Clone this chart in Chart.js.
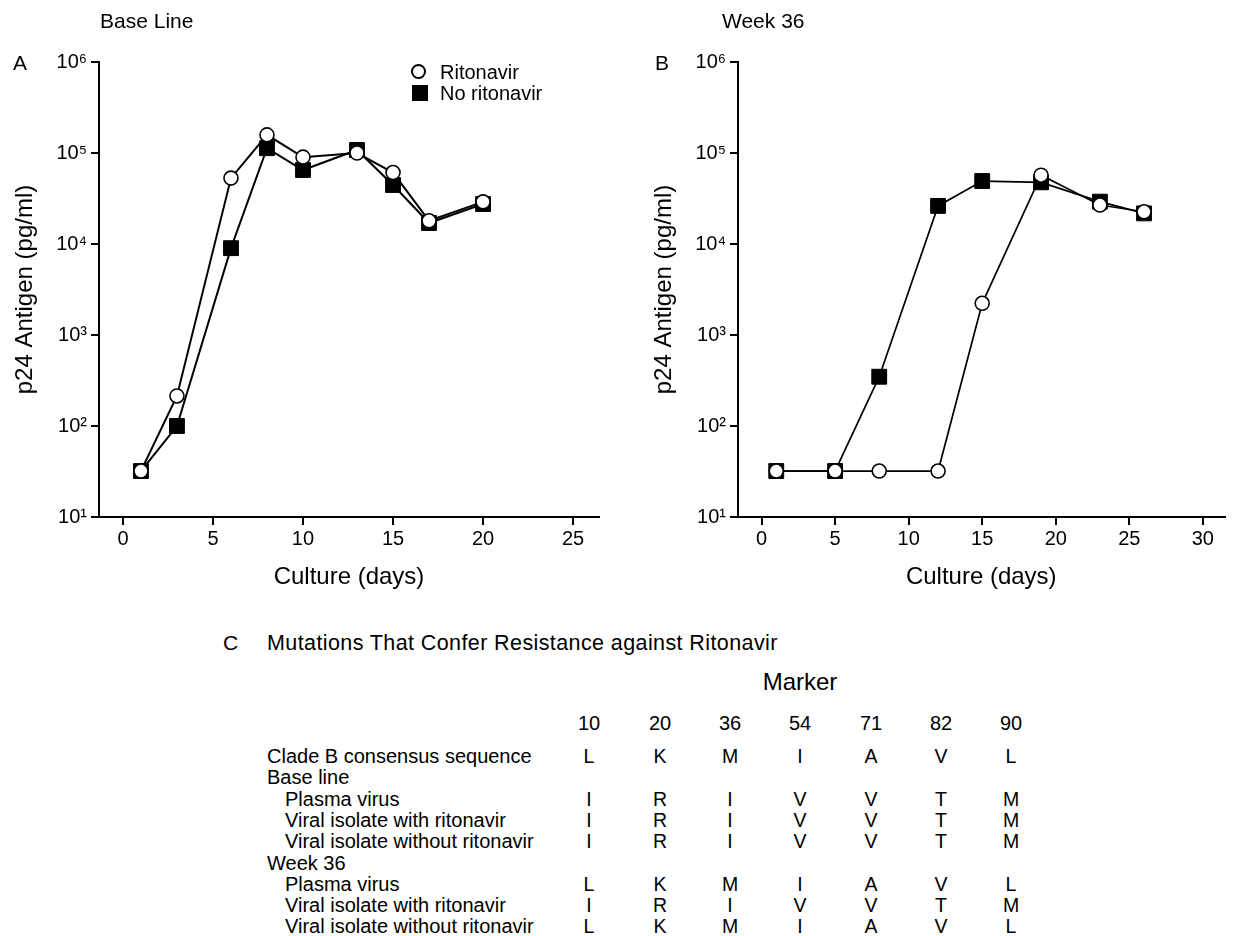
<!DOCTYPE html>
<html>
<head>
<meta charset="utf-8">
<title>p24 antigen in culture and ritonavir resistance mutations</title>
<script src="https://cdn.jsdelivr.net/npm/chart.js@4/dist/chart.umd.min.js"></script>
<style>
  body {
    margin: 0;
    width: 1236px;
    height: 936px;
    position: relative;
    overflow: hidden;
    background: #fff;
    color: #000;
    font-family: "Liberation Sans", Arial, Helvetica, sans-serif;
  }
  canvas { position: absolute; top: 0; }
  #chartA { left: 0; }
  #chartB { left: 620px; }
  .txt { position: absolute; white-space: nowrap; line-height: 24px; height: 24px; }
  .cell { text-align: center; width: 40px; }
  .legend-circle {
    position: absolute; width: 11px; height: 11px;
    border: 2px solid #000; border-radius: 50%; background: #fff;
  }
  .legend-square { position: absolute; width: 16px; height: 16px; background: #000; }
</style>
</head>
<body>

<canvas id="chartA" width="620" height="600"></canvas>
<canvas id="chartB" width="616" height="600"></canvas>

<div class="txt" style="left:100px; top:9px; font-size:21px;">Base Line</div>
<div class="txt" style="left:722px; top:9px; font-size:21px;">Week 36</div>
<div class="txt" style="left:13px; top:51px; font-size:21px;">A</div>
<div class="txt" style="left:655px; top:51px; font-size:21px;">B</div>

<!-- legend of panel A -->
<div class="legend-circle" style="left:411px; top:64px;"></div>
<div class="txt" style="left:440px; top:60px; font-size:20px;">Ritonavir</div>
<div class="legend-square" style="left:412px; top:85px;"></div>
<div class="txt" style="left:440px; top:81px; font-size:20px;">No ritonavir</div>

<div id="table"></div>

<script>
// Panel A - base line cultures (days, p24 pg/ml)
const daysA = [1, 3, 6, 8, 10, 13, 15, 17, 20];
const ritonavirA = [32, 214, 53000, 158000, 90000, 100000, 61000, 18000, 29000];
const noRitonavirA = [32, 100, 9000, 113000, 65000, 108000, 44500, 17000, 27500];

// Panel B - week 36 cultures
const daysB = [1, 5, 8, 12, 15, 19, 23, 26];
const ritonavirB = [32, 32, 32, 32, 2230, 57000, 26800, 22600];
const noRitonavirB = [32, 32, 348, 26200, 49200, 47600, 29200, 21700];

// Axis ticks
const yTicks = [10, 100, 1000, 10000, 100000, 1000000];
const xTicksA = [0, 5, 10, 15, 20, 25];
const xTicksB = [0, 5, 10, 15, 20, 25, 30];

// Panel C - mutations table
const markerPositions = ['10', '20', '36', '54', '71', '82', '90'];
const rowLabels = [
    'Clade B consensus sequence',
    'Base line',
    'Plasma virus',
    'Viral isolate with ritonavir',
    'Viral isolate without ritonavir',
    'Week 36',
    'Plasma virus',
    'Viral isolate with ritonavir',
    'Viral isolate without ritonavir'
];
const rowIndent = [0, 0, 1, 1, 1, 0, 1, 1, 1];
const rowResidues = [
    ['L', 'K', 'M', 'I', 'A', 'V', 'L'],
    [],
    ['I', 'R', 'I', 'V', 'V', 'T', 'M'],
    ['I', 'R', 'I', 'V', 'V', 'T', 'M'],
    ['I', 'R', 'I', 'V', 'V', 'T', 'M'],
    [],
    ['L', 'K', 'M', 'I', 'A', 'V', 'L'],
    ['I', 'R', 'I', 'V', 'V', 'T', 'M'],
    ['L', 'K', 'M', 'I', 'A', 'V', 'L']
];

const FONT = '"Liberation Sans", Arial, Helvetica, sans-serif';
const SUP = { 1: '\u00B9', 2: '\u00B2', 3: '\u00B3', 4: '\u2074', 5: '\u2075', 6: '\u2076' };

function toPoints(xs, ys) {
    return xs.map((x, i) => ({ x: x, y: ys[i] }));
}

// One panel (A or B)
function drawPanel(id, days, rit, noRit, cfg) {
    const ctx = document.getElementById(id).getContext('2d');
    return new Chart(ctx, {
        type: 'line',
        data: {
            datasets: [{
                label: 'Ritonavir',
                data: toPoints(days, rit),
                borderColor: '#000',
                borderWidth: cfg.lineWidth,
                pointStyle: 'circle',
                pointRadius: 7,
                pointBorderWidth: 1.6,
                pointBackgroundColor: '#fff',
                pointBorderColor: '#000',
                tension: 0,
                fill: false
            }, {
                label: 'No ritonavir',
                data: toPoints(days, noRit),
                borderColor: '#000',
                borderWidth: cfg.lineWidth,
                pointStyle: 'rect',
                pointRadius: 10.5,
                pointBorderWidth: 1,
                pointBackgroundColor: '#000',
                pointBorderColor: '#000',
                tension: 0,
                fill: false
            }]
        },
        options: {
            responsive: false,
            animation: false,
            events: [],
            devicePixelRatio: 1,
            layout: { padding: { left: 0, top: 62, right: cfg.rightPad, bottom: 0 } },
            plugins: {
                legend: { display: false },
                tooltip: { enabled: false }
            },
            scales: {
                x: {
                    type: 'linear',
                    min: cfg.xMin,
                    max: cfg.xMax,
                    afterBuildTicks: s => { s.ticks = cfg.xTicks.map(v => ({ value: v })); },
                    afterFit: s => { s.height = 83; },
                    border: { display: true, color: '#000', width: 2 },
                    grid: { drawOnChartArea: false, drawTicks: true, tickLength: 8, color: '#000', lineWidth: 2 },
                    ticks: { color: '#000', padding: 2, font: { family: FONT, size: 20 } },
                    title: {
                        display: true,
                        text: 'Culture (days)',
                        color: '#000',
                        font: { family: FONT, size: 24 },
                        padding: { top: 0, bottom: 8 }
                    }
                },
                y: {
                    type: 'logarithmic',
                    min: 10,
                    max: 1000000,
                    afterBuildTicks: s => { s.ticks = yTicks.map(v => ({ value: v })); },
                    afterFit: s => { s.width = cfg.yWidth; },
                    border: { display: true, color: '#000', width: 2 },
                    grid: { drawOnChartArea: false, drawTicks: true, tickLength: 8, color: '#000', lineWidth: 2 },
                    ticks: {
                        color: '#000',
                        padding: 4,
                        font: { family: FONT, size: 20 },
                        callback: v => '10' + SUP[Math.round(Math.log10(v))]
                    },
                    title: {
                        display: true,
                        text: 'p24 Antigen (pg/ml)',
                        color: '#000',
                        font: { family: FONT, size: 24 },
                        padding: { top: cfg.titlePad, bottom: 0 }
                    }
                }
            }
        }
    });
}

drawPanel('chartA', daysA, ritonavirA, noRitonavirA, {
    xMin: -1.33, xMax: 26.44, xTicks: xTicksA, yWidth: 99, rightPad: 21, titlePad: 11, lineWidth: 2
});
drawPanel('chartB', daysB, ritonavirB, noRitonavirB, {
    xMin: -1.6, xMax: 31.47, xTicks: xTicksB, yWidth: 118, rightPad: 2, titlePad: 30, lineWidth: 1.7
});

// Table (panel C)
function addText(text, left, centerY, size, cls, width) {
    const d = document.createElement('div');
    d.className = 'txt' + (cls ? ' ' + cls : '');
    d.style.left = left + 'px';
    d.style.top = (centerY - 12) + 'px';
    d.style.fontSize = size + 'px';
    if (width) d.style.width = width + 'px';
    d.textContent = text;
    document.getElementById('table').appendChild(d);
    return d;
}

addText('C', 223, 643, 21);
addText('Mutations That Confer Resistance against Ritonavir', 267, 643, 21.5).style.letterSpacing = '0.4px';

const colX = [589, 660, 730, 800, 871, 941, 1011];
const rowY = [756, 777, 799, 820, 841, 863, 884, 905, 926];

addText('Marker', 800 - 60, 682, 24, 'cell', 120);

markerPositions.forEach((m, j) => addText(m, colX[j] - 20, 723, 20, 'cell'));

rowLabels.forEach((label, i) => {
    addText(label, rowIndent[i] ? 285 : 267, rowY[i], 20);
    rowResidues[i].forEach((r, j) => addText(r, colX[j] - 20, rowY[i], 19.5, 'cell'));
});
</script>
</body>
</html>
